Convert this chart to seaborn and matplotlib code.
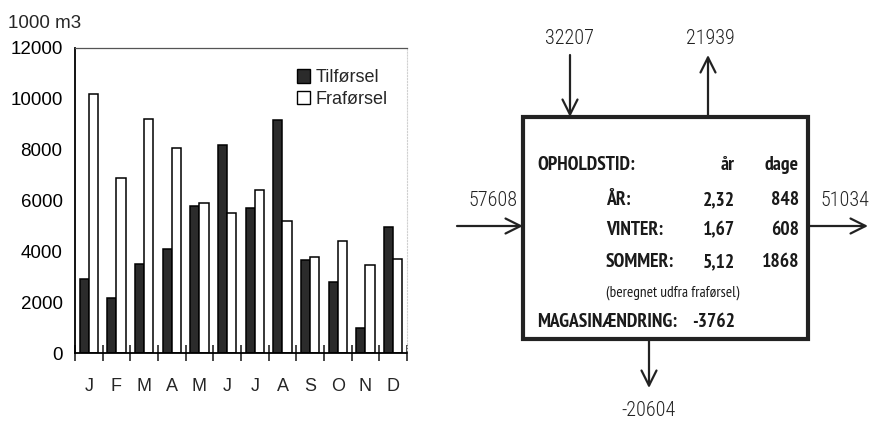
import matplotlib
matplotlib.use('Agg')
import matplotlib.pyplot as plt
import seaborn as sns
import pandas as pd
from matplotlib.patches import Rectangle, Patch

# maanedlige vandmaengder (1000 m3)
maaneder = ['jan', 'feb', 'mar', 'apr', 'maj', 'jun', 'jul', 'aug', 'sep', 'okt', 'nov', 'dec']
bogstaver = ['J', 'F', 'M', 'A', 'M', 'J', 'J', 'A', 'S', 'O', 'N', 'D']
tilforsel = [2900, 2150, 3500, 4100, 5800, 8200, 5700, 9150, 3650, 2800, 1000, 4950]
fraforsel = [10200, 6900, 9200, 8050, 5900, 5500, 6430, 5180, 3780, 4390, 3450, 3710]
serier = ['Tilførsel', 'Fraførsel']
y_ticks = [0, 2000, 4000, 6000, 8000, 10000, 12000]

# vandbalance-diagram
ind_top = '32207'
ud_top = '21939'
ind_venstre = '57608'
ud_hoejre = '51034'
ud_bund = '-20604'
perioder = ['ÅR:', 'VINTER:', 'SOMMER:']
aar = ['2,32', '1,67', '5,12']
dage = ['848', '608', '1868']
magasin = '-3762'

sns.set_theme(style='white')
plt.rcParams['font.family'] = ['Liberation Sans', 'DejaVu Sans']
tynd = ['Roboto Condensed', 'Liberation Sans', 'DejaVu Sans']
smal = ['PT Sans Narrow', 'Roboto Condensed', 'Liberation Sans', 'DejaVu Sans']

df = pd.DataFrame({
    'maaned': maaneder * 2,
    'serie': [serier[0]] * 12 + [serier[1]] * 12,
    'vaerdi': tilforsel + fraforsel,
})

fig = plt.figure(figsize=(8.7, 4.26), dpi=100)
ax = fig.add_axes([75 / 870, 73 / 426, 332 / 870, 305 / 426])

sns.barplot(data=df, x='maaned', y='vaerdi', hue='serie', order=maaneder,
            hue_order=serier, palette=['#2b2b2b', 'white'], saturation=1,
            edgecolor='black', linewidth=1.1, width=0.66, legend=False, ax=ax)

ax.set_xlim(-0.5, 11.5)
ax.set_ylim(0, 12000)
ax.set_xlabel('')
ax.set_ylabel('')
ax.set_yticks(y_ticks)
ax.set_yticklabels([str(v) for v in y_ticks], fontsize=13.5)
ax.tick_params(axis='y', direction='inout', length=10, width=1.2, pad=4, colors='black')

# ticks mellem maanederne, bogstaver midt i
ax.set_xticks([i - 0.5 for i in range(13)])
ax.set_xticklabels([''] * 13)
ax.set_xticks(range(12), minor=True)
ax.set_xticklabels(bogstaver, minor=True, fontsize=13)
ax.tick_params(axis='x', which='major', direction='inout', length=12, width=1.2, bottom=True)
ax.tick_params(axis='x', which='minor', length=0, pad=18, bottom=True)

for s in ['left', 'bottom']:
    ax.spines[s].set_color('black')
    ax.spines[s].set_linewidth(1.3)
ax.spines['top'].set_color('#555555')
ax.spines['top'].set_linewidth(0.9)
ax.spines['right'].set_color('#d0d0d0')
ax.spines['right'].set_linestyle(':')
ax.spines['right'].set_linewidth(0.8)

handles = [Patch(facecolor='#2b2b2b', edgecolor='black', label=serier[0]),
           Patch(facecolor='white', edgecolor='black', label=serier[1])]
ax.legend(handles=handles, loc='upper left', bbox_to_anchor=(0.64, 0.96),
          frameon=False, fontsize=13, handlelength=0.75, handleheight=0.75,
          handletextpad=0.3, labelspacing=0.25, borderpad=0)

fig.text(8 / 870, 1 - 24 / 426, '1000 m3', fontsize=13.5, va='center', ha='left')

# diagram til hoejre
ax2 = fig.add_axes([440 / 870, 0, 430 / 870, 1])
ax2.set_xlim(440, 870)
ax2.set_ylim(426, 0)
ax2.axis('off')

ax2.add_patch(Rectangle((523, 117), 285, 222, fill=False, edgecolor='#222222', lw=3))

pil = dict(arrowstyle='->,head_length=0.9,head_width=0.45', lw=1.6, color='#222222',
           shrinkA=0, shrinkB=0)
ax2.annotate('', xy=(570, 117), xytext=(570, 55), arrowprops=pil)
ax2.annotate('', xy=(708, 55), xytext=(708, 117), arrowprops=pil)
ax2.annotate('', xy=(523, 226), xytext=(457, 226), arrowprops=pil)
ax2.annotate('', xy=(868, 226), xytext=(808, 226), arrowprops=pil)
ax2.annotate('', xy=(649, 388), xytext=(649, 339), arrowprops=pil)

lab = dict(fontsize=14.5, family=tynd, weight=300, color='#222222', ha='center', va='center')
ax2.text(570, 39, ind_top, **lab)
ax2.text(710, 39, ud_top, **lab)
ax2.text(493, 200, ind_venstre, **lab)
ax2.text(845, 200, ud_hoejre, **lab)
ax2.text(649, 411, ud_bund, **lab)

fed = dict(fontsize=14, family=smal, weight='bold', color='#1a1a1a', va='center')
ax2.text(537, 165, 'OPHOLDSTID:', ha='left', **fed)
ax2.text(735, 165, 'år', ha='right', **fed)
ax2.text(799, 165, 'dage', ha='right', **fed)
for i, (p, a, d) in enumerate(zip(perioder, aar, dage)):
    yy = [200, 230, 262][i]
    ax2.text(606, yy, p, ha='left', **fed)
    ax2.text(735, yy, a, ha='right', **fed)
    ax2.text(799, yy, d, ha='right', **fed)
ax2.text(606, 293, '(beregnet udfra fraførsel)', ha='left', fontsize=11,
         family=smal, color='#1a1a1a', va='center')
ax2.text(537, 322, 'MAGASINÆNDRING:', ha='left', **fed)
ax2.text(735, 322, magasin, ha='right', **fed)

fig.savefig('out.png', dpi=100)
